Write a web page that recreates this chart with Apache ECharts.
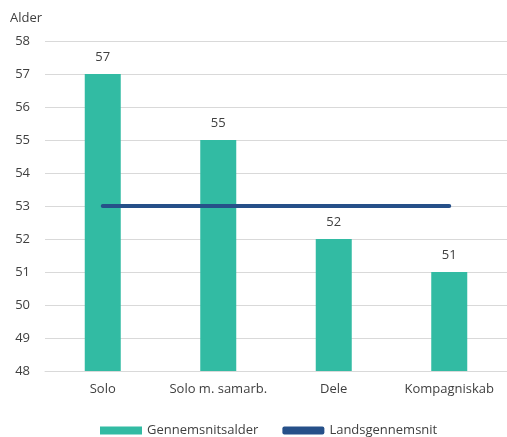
<!DOCTYPE html>
<html><head><meta charset="utf-8">
<script src="https://cdn.jsdelivr.net/npm/echarts@6/dist/echarts.min.js"></script>
<style>html,body{margin:0;padding:0;background:#fff}#c{width:507px;height:437px}</style>
</head><body><div id="c"></div>
<script>
const categories = ["Solo", "Solo m. samarb.", "Dele", "Kompagniskab"];
const avgAge = [57, 55, 52, 51];
const nationalAvg = [53, 53, 53, 53];
const chart = echarts.init(document.getElementById('c'), null, {renderer: 'canvas'});
const font = "'Open Sans', 'Noto Sans', sans-serif";
chart.setOption({
  animation: false,
  textStyle: {fontFamily: font},
  grid: {left: 45, right: 0, top: 41, bottom: 66},
  legend: {
    top: 419, left: 95, itemGap: 24, itemWidth: 42, itemHeight: 8,
    textStyle: {fontFamily: font, fontSize: 13, color: '#404040'},
    data: [
      {name: 'Gennemsnitsalder', icon: 'rect'},
      {name: 'Landsgennemsnit', icon: 'roundRect'}
    ]
  },
  xAxis: {
    type: 'category', data: categories,
    axisLine: {lineStyle: {color: '#d9d9d9', width: 1}},
    axisTick: {show: false},
    axisLabel: {color: '#404040', fontSize: 13, fontFamily: font, margin: 12, interval: 0}
  },
  yAxis: {
    type: 'value', min: 48, max: 58, interval: 1,
    name: 'Alder', nameLocation: 'end', nameGap: 16,
    nameTextStyle: {color: '#404040', fontSize: 13, fontFamily: font, align: 'left', padding: [0, 0, 0, -35]},
    axisLine: {show: false}, axisTick: {show: false},
    axisLabel: {color: '#404040', fontSize: 13, fontFamily: font, margin: 15},
    splitLine: {lineStyle: {color: '#d9d9d9', width: 1}}
  },
  series: [
    {
      name: 'Gennemsnitsalder', type: 'bar', data: avgAge, barWidth: 36,
      itemStyle: {color: '#32bba3'},
      label: {show: true, position: 'top', distance: 10, color: '#404040', fontSize: 13, fontFamily: font}
    },
    {
      name: 'Landsgennemsnit', type: 'line', data: nationalAvg,
      symbol: 'none', lineStyle: {color: '#265089', width: 4, cap: 'round'},
      itemStyle: {color: '#265089'}
    }
  ]
});
</script></body></html>
